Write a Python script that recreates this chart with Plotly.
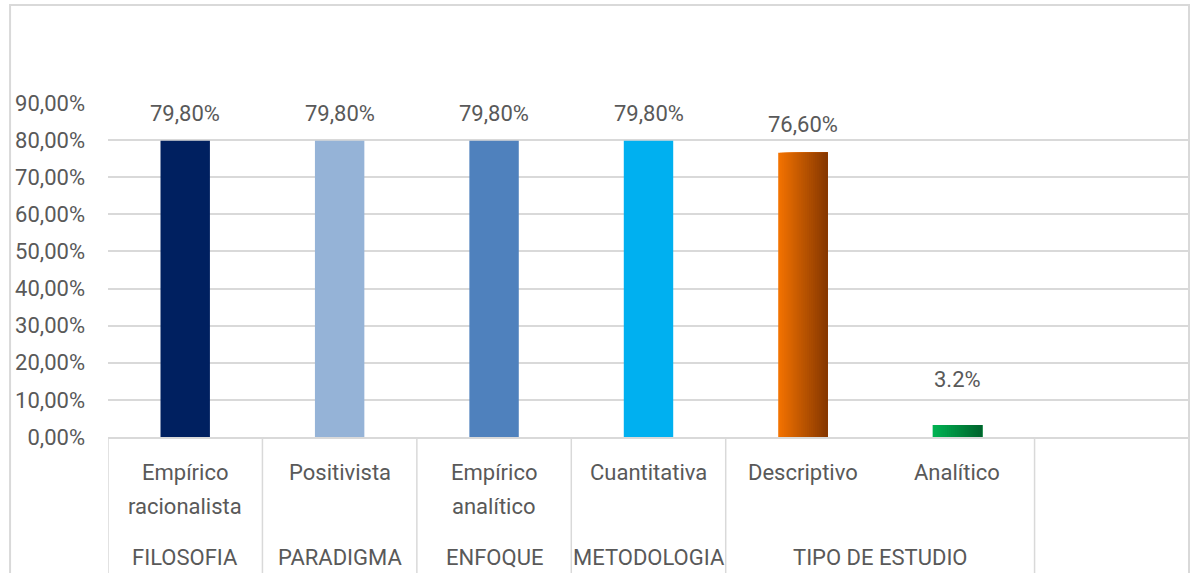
import plotly.graph_objects as go

# ---------------- data ----------------
categories = ["Empírico racionalista", "Positivista", "Empírico analítico",
              "Cuantitativa", "Descriptivo", "Analítico"]
category_lines = [["Empírico", "racionalista"], ["Positivista"], ["Empírico", "analítico"],
                  ["Cuantitativa"], ["Descriptivo"], ["Analítico"]]
groups = ["FILOSOFIA", "PARADIGMA", "ENFOQUE", "METODOLOGIA",
          "TIPO DE ESTUDIO", "TIPO DE ESTUDIO"]
values = [0.798, 0.798, 0.798, 0.798, 0.766, 0.032]
value_labels = ["79,80%", "79,80%", "79,80%", "79,80%", "76,60%", "3.2%"]

# ---------------- style ----------------
FONT = "Liberation Sans Narrow, Roboto, Liberation Sans, sans-serif"
FS = 22
TXT = "#595959"
GRID = "#D9D9D9"
solid_colors = {0: "#002060", 1: "#95B3D7", 2: "#4F81BD", 3: "#00B0F0"}
gradient_colors = {4: ((242, 114, 0), (135, 56, 0)), 5: ((0, 178, 82), (0, 100, 45))}
label_shift = [27, 27, 27, 27, 28, 46]
BAR_W = 0.32
N_STRIPS = 24

fig = go.Figure()

solid_idx = sorted(solid_colors)
fig.add_trace(go.Bar(
    x=[categories[i] for i in solid_idx],
    y=[values[i] for i in solid_idx],
    width=BAR_W,
    marker=dict(color=[solid_colors[i] for i in solid_idx], line=dict(width=0)),
    showlegend=False, hoverinfo="x+y",
))

grad_idx = sorted(gradient_colors)
sw = BAR_W / N_STRIPS
for k in range(N_STRIPS):
    t = k / (N_STRIPS - 1)
    cols = []
    for i in grad_idx:
        a, b = gradient_colors[i]
        c = tuple(round(a[j] + (b[j] - a[j]) * t) for j in range(3))
        cols.append("rgb(%d,%d,%d)" % c)
    fig.add_trace(go.Bar(
        x=[categories[i] for i in grad_idx],
        y=[values[i] for i in grad_idx],
        width=BAR_W - k * sw,
        offset=-BAR_W / 2 + k * sw,
        marker=dict(color=cols, line=dict(width=0)),
        showlegend=False, hoverinfo="x+y",
    ))

annotations = []
# value labels
for i, (v, lab) in enumerate(zip(values, value_labels)):
    annotations.append(dict(x=i, y=v, xref="x", yref="y", text=lab, showarrow=False,
                            yanchor="middle", yshift=label_shift[i],
                            font=dict(family=FONT, size=FS, color=TXT)))
# inner category labels (one annotation per line)
for i, lines in enumerate(category_lines):
    for j, line in enumerate(lines):
        annotations.append(dict(x=i, y=0, xref="x", yref="paper", text=line, showarrow=False,
                                yanchor="middle", yshift=-35 - 34 * j,
                                font=dict(family=FONT, size=FS, color=TXT)))
# outer group labels + dividers
shapes = []
start = 0
for i in range(1, len(groups) + 1):
    if i == len(groups) or groups[i] != groups[start]:
        center = (start + i - 1) / 2
        annotations.append(dict(x=center, y=0, xref="x", yref="paper", text=groups[start],
                                showarrow=False, yanchor="middle", yshift=-120,
                                font=dict(family=FONT, size=FS, color=TXT)))
        shapes.append(dict(type="line", xref="x", yref="paper", x0=start - 0.5, x1=start - 0.5,
                           y0=0, y1=-0.42, line=dict(color=GRID, width=1.5)))
        start = i
shapes.append(dict(type="line", xref="x", yref="paper", x0=len(groups) - 0.5,
                   x1=len(groups) - 0.5, y0=0, y1=-0.42, line=dict(color=GRID, width=1.5)))
# outer frame
shapes.append(dict(type="rect", xref="paper", yref="paper", x0=-0.0906, x1=1.0,
                   y0=-0.45, y1=1.2934, line=dict(color=GRID, width=2), layer="above"))

fig.update_layout(
    width=1191, height=573,
    margin=dict(l=108, r=2, t=103, b=136),
    paper_bgcolor="white", plot_bgcolor="white",
    separators=",.",
    barmode="overlay",
    showlegend=False,
    annotations=annotations,
    shapes=shapes,
    xaxis=dict(type="category", categoryorder="array", categoryarray=categories,
               range=[-0.5, 6.5], showticklabels=False, showgrid=False, ticks="",
               showline=True, linecolor=GRID, linewidth=1.5, zeroline=False, fixedrange=True),
    yaxis=dict(range=[0, 0.9], dtick=0.1, tickformat=".2%", showgrid=True, gridcolor=GRID,
               gridwidth=1.5, zeroline=False, showline=False, ticks="",
               ticklabelstandoff=22,
               tickfont=dict(family=FONT, size=FS, color=TXT), fixedrange=True),
)

fig.write_html("out.html", config={"displayModeBar": False},
               post_script="document.body.style.margin='0px';document.body.style.overflow='hidden';")
